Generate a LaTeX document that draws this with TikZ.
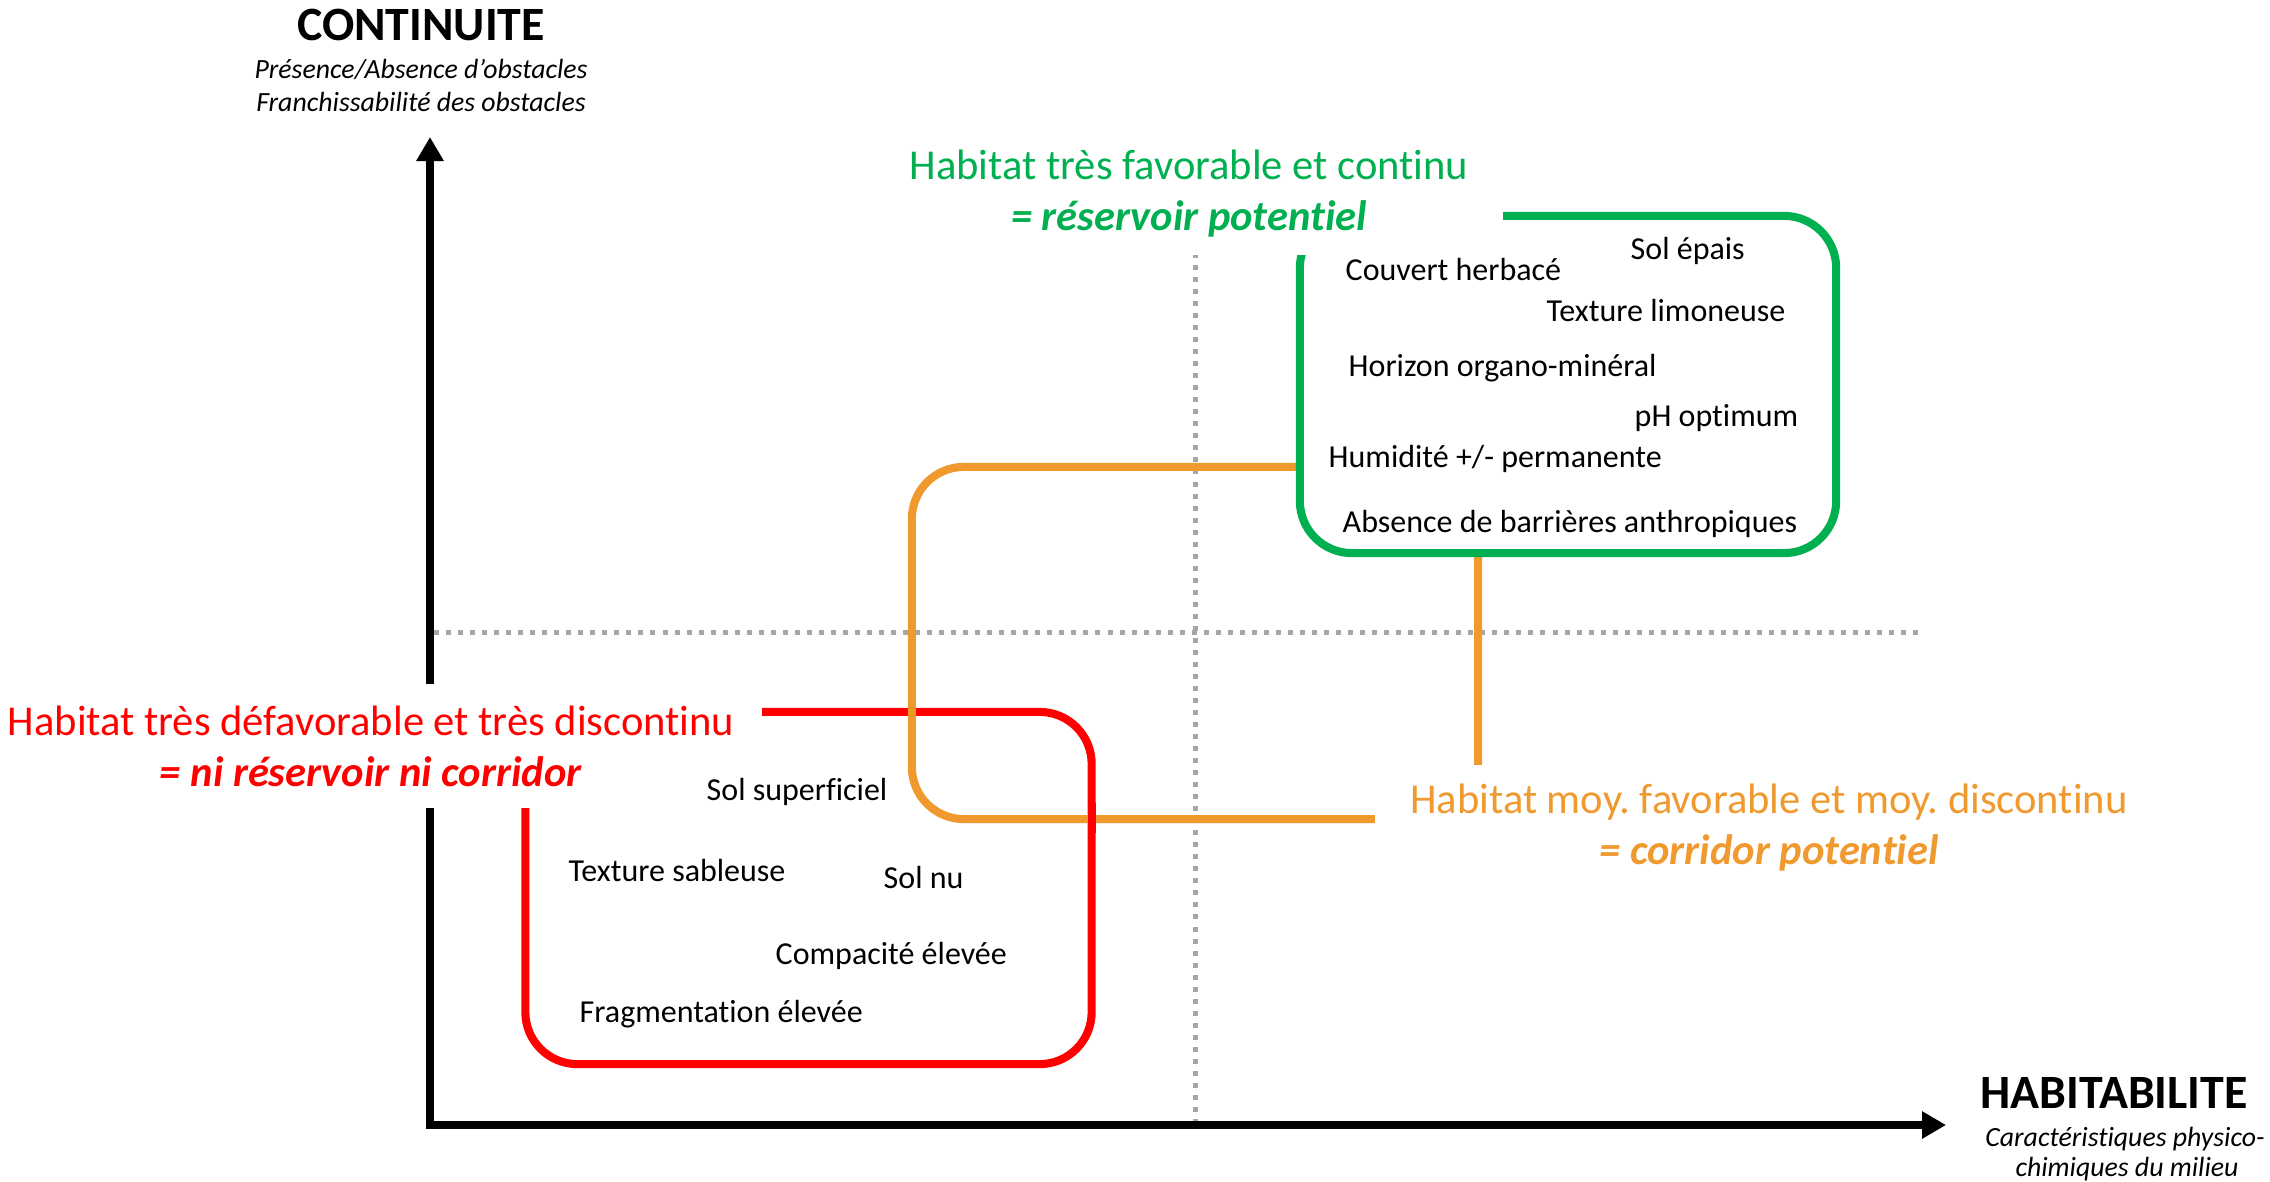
\documentclass[tikz,border=0pt]{standalone}
\usepackage{fontspec}
\setmainfont{Carlito}[Ligatures=NoCommon]
\usetikzlibrary{arrows.meta}
\definecolor{cgreen}{HTML}{00B050}
\definecolor{cred}{HTML}{FF0000}
\definecolor{corange}{HTML}{F0992F}
\definecolor{cgray}{HTML}{A6A6A6}
\frenchspacing
\begin{document}
\begin{tikzpicture}[x=0.01cm,y=-0.01cm,
 axisline/.style={line width=2.28pt, {Triangle[length=0.24cm,width=0.26cm]}-{Triangle[length=0.24cm,width=0.26cm]}},
 gridline/.style={cgray, line width=1.42pt, dash pattern=on 1.42pt off 2pt},
 zone/.style={line width=2.3pt, rounded corners=0.52cm, minimum width=5.66cm, minimum height=3.52cm, inner sep=0, outer sep=0},
 zoneline/.style={line width=2.3pt},
 lbl/.style={anchor=mid west, inner sep=0, font=\fontsize{9.1}{11}\selectfont},
 titlebox/.style={fill=white, inner sep=0, align=center, font=\fontsize{12.1}{14.5}\selectfont},
 axtitle/.style={inner sep=0, font=\fontsize{13.6}{16}\selectfont\bfseries},
 axsub/.style={inner sep=0, font=\fontsize{7.9}{9.5}\selectfont\itshape},
]
\useasboundingbox[fill=white] (0,0) rectangle (2270,1182);

% grid (dotted) lines
\coordinate (vtop) at (1195,253);
\coordinate (vbot) at (1195,1125);
\coordinate (hl) at (434,632);
\coordinate (hr) at (1925,632);
\draw[gridline] (vtop) -- (vbot);
\draw[gridline] (hl) -- (hr);

% zones
\node[zone, draw=cred] (rbox) at (808.5,888) {};
\node[zone, draw=corange] (obox) at (1195,643) {};
\draw[zoneline, cred] ([yshift=0.85cm]rbox.east) -- ([yshift=0.55cm]rbox.east);
\draw[zoneline, corange] ([yshift=0.3cm]obox.east) -- ([yshift=0cm]obox.east);

% axes
\coordinate (O) at (430,1125);
\coordinate (ytip) at (430,137);
\coordinate (xtip) at (1946,1125);
\draw[axisline] (ytip) -- (O) -- (xtip);

% green zone
\node[zone, draw=cgreen, fill=white, minimum width=5.36cm, minimum height=3.37cm] (gbox) at (1568,384.5) {};

% titles
\node[titlebox, text=cgreen, minimum width=6.28cm, minimum height=1.23cm] (gtitle) at (1189,193.5)
 {Habitat très favorable et continu\\\textbf{\itshape = réservoir potentiel}};
\node[titlebox, text=cred, minimum width=7.82cm, minimum height=1.23cm] (rtitle) at (371,746)
 {Habitat très défavorable et très discontinu\\\textbf{\itshape = ni réservoir ni corridor}};
\node[titlebox, text=corange, minimum width=7.88cm, minimum height=1.25cm] (otitle) at (1769,828)
 {Habitat moy. favorable et moy. discontinu\\\textbf{\itshape = corridor potentiel}};

% green labels
\node[lbl] (g1) at (1630,251) {Sol épais};
\node[lbl] (g2) at (1345,272) {Couvert herbacé};
\node[lbl] (g3) at (1546,313) {Texture limoneuse};
\node[lbl] (g4) at (1348,368) {Horizon organo-minéral};
\node[lbl] (g5) at (1634,418) {pH optimum};
\node[lbl] (g6) at (1328,459) {Humidité +/- permanente};
\node[lbl] (g7) at (1342,524) {Absence de barrières anthropiques};

% red labels
\node[lbl] (r1) at (706,792) {Sol superficiel};
\node[lbl] (r2) at (568,873) {Texture sableuse};
\node[lbl] (r3) at (883,880) {Sol nu};
\node[lbl] (r4) at (775,956) {Compacité élevée};
\node[lbl] (r5) at (579,1014) {Fragmentation élevée};

% axis titles
\node[axtitle] (ct) at (421,25) {CONTINUITE};
\node[axsub] (cs1) at (421,69) {Présence/Absence d’obstacles};
\node[axsub] (cs2) at (421,102) {Franchissabilité des obstacles};
\node[axtitle] (ht) at (2114,1093) {HABITABILITE};
\node[axsub] (hs1) at (2125,1139) {Caractéristiques physico-};
\node[axsub] (hs2) at (2127,1169) {chimiques du milieu};
\end{tikzpicture}
\end{document}
